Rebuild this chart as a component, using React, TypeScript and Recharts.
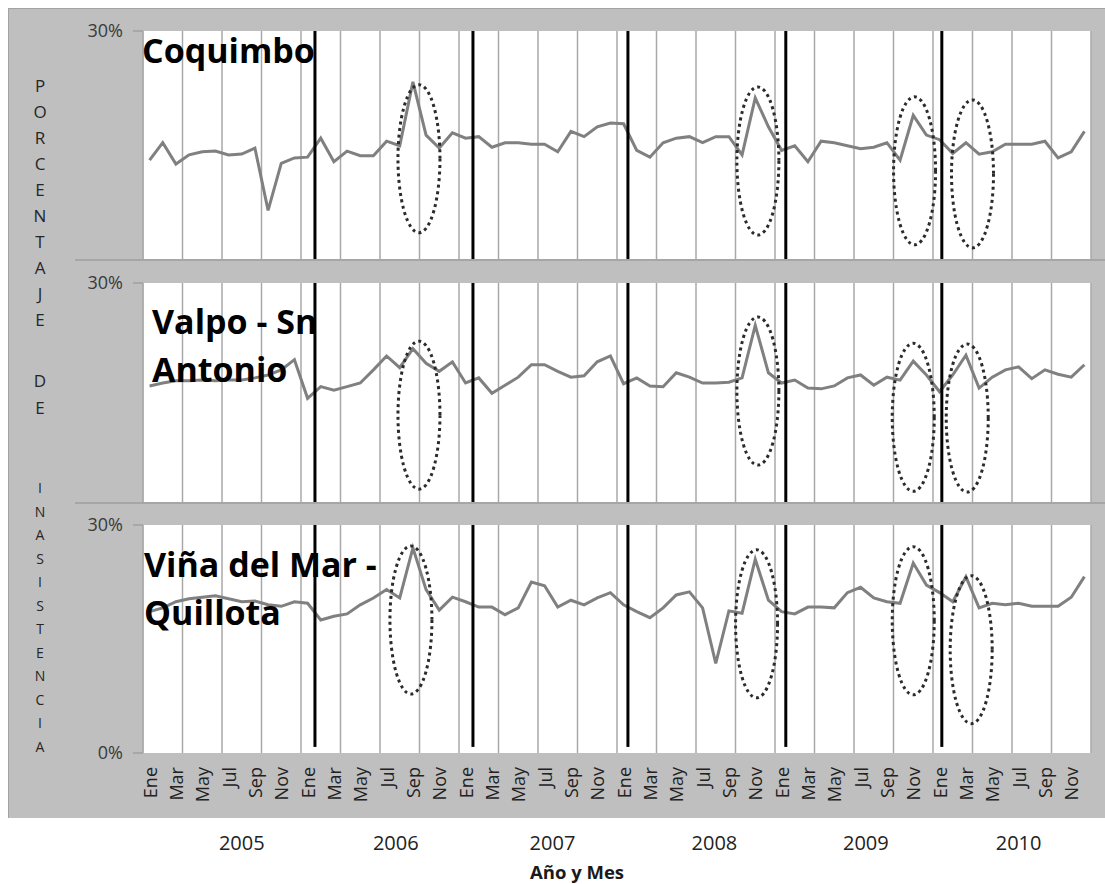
import React from 'react';
import { LineChart, Line, XAxis, YAxis, CartesianGrid, ReferenceLine, ReferenceDot } from 'recharts';

const FONT = "'Open Sans', 'Liberation Sans', sans-serif";

const years = ['2005', '2006', '2007', '2008', '2009', '2010'];
const monthLabels = ['Ene', 'Mar', 'May', 'Jul', 'Sep', 'Nov'];

const coquimbo = [
  13.0, 15.3, 12.5, 13.7, 14.1, 14.2, 13.7, 13.8, 14.6, 6.4, 12.6, 13.3,
  13.4, 15.9, 12.8, 14.2, 13.6, 13.6, 15.5, 14.9, 23.3, 16.3, 14.6, 16.6,
  15.9, 16.1, 14.7, 15.3, 15.3, 15.1, 15.1, 14.1, 16.8, 16.1, 17.4, 17.9,
  17.8, 14.3, 13.4, 15.3, 15.9, 16.1, 15.3, 16.1, 16.1, 13.7, 21.2, 17.4,
  14.3, 14.9, 12.8, 15.5, 15.3, 14.9, 14.5, 14.7, 15.3, 13.0, 18.9, 16.3,
  15.7, 13.9, 15.3, 13.8, 14.1, 15.1, 15.1, 15.1, 15.5, 13.3, 14.1, 16.8,
];

const valpo = [
  15.9, 16.3, 16.6, 16.6, 16.7, 16.6, 16.7, 16.7, 17.0, 17.4, 18.1, 19.5,
  14.2, 15.8, 15.3, 15.8, 16.3, 18.1, 20.0, 18.4, 21.0, 19.0, 17.9, 19.2,
  16.3, 17.0, 14.9, 16.0, 17.1, 18.8, 18.8, 17.9, 17.1, 17.3, 19.2, 20.0,
  16.2, 17.0, 15.9, 15.8, 17.7, 17.1, 16.3, 16.3, 16.4, 17.0, 24.2, 17.7,
  16.3, 16.7, 15.6, 15.5, 15.9, 17.0, 17.4, 16.0, 17.1, 16.7, 19.3, 17.4,
  15.1, 17.4, 20.1, 15.6, 17.1, 18.1, 18.5, 16.9, 18.1, 17.5, 17.1, 18.8,
];

const vina = [
  18.6, 19.1, 19.9, 20.3, 20.5, 20.7, 20.3, 19.9, 20.0, 19.5, 19.3, 19.9,
  19.7, 17.5, 18.0, 18.3, 19.5, 20.4, 21.5, 20.4, 27.0, 21.5, 18.8, 20.5,
  19.9, 19.2, 19.2, 18.2, 19.1, 22.5, 22.0, 19.2, 20.1, 19.5, 20.4, 21.1,
  19.5, 18.6, 17.8, 19.1, 20.8, 21.2, 19.1, 11.8, 18.7, 18.4, 25.5, 20.1,
  18.6, 18.3, 19.2, 19.2, 19.1, 21.1, 21.8, 20.4, 19.9, 19.7, 25.0, 22.1,
  21.1, 19.9, 23.2, 19.1, 19.7, 19.5, 19.7, 19.3, 19.3, 19.3, 20.5, 23.2,
];

// annotation positions (in data units: month index, percent)
const yearBreaks = [13.06, 25.06, 36.83, 48.82, 60.67];
const ellipsesCoq = [
  { x: 20.96, y: 13.2 }, { x: 46.7, y: 12.9 }, { x: 58.6, y: 11.6 }, { x: 63.0, y: 11.2 },
];
const ellipsesValpo = [
  { x: 20.96, y: 11.9 }, { x: 46.7, y: 15.2 }, { x: 58.5, y: 11.6 }, { x: 62.6, y: 11.5 },
];
const ellipsesVina = [
  { x: 20.35, y: 17.5 }, { x: 46.6, y: 17.0 }, { x: 58.5, y: 17.4 }, { x: 62.9, y: 13.6 },
];

const gridTicks = Array.from({ length: 25 }, (_, i) => i * 3);
const monthTicks = Array.from({ length: 36 }, (_, i) => i * 2 + 0.5);
const yearTicks = [7.5, 19.2, 31.1, 43.4, 54.9, 66.5];

const toData = (arr: number[]) => arr.map((v, i) => ({ x: i + 0.5, v }));

const EmptyTick = () => <g />;

const MonthTick = (props: any) => {
  const { x, y, payload } = props;
  const idx = Math.round((payload.value - 0.5) / 2) % 6;
  return (
    <text
      x={x}
      y={y}
      transform={`rotate(-90 ${x} ${y})`}
      textAnchor="end"
      dominantBaseline="central"
      fontSize={18}
      fill="#222222"
      fontFamily={FONT}
    >
      {monthLabels[idx]}
    </text>
  );
};

const YearTick = (props: any) => {
  const { x, y, payload } = props;
  const idx = yearTicks.indexOf(payload.value);
  return (
    <text x={x} y={y} textAnchor="middle" dominantBaseline="central" fontSize={20} fill="#222222" fontFamily={FONT}>
      {years[idx]}
    </text>
  );
};

const ellipseShape = (p: any) => (
  <ellipse
    cx={p.cx}
    cy={p.cy}
    rx={21}
    ry={74}
    fill="none"
    stroke="#2b2b2b"
    strokeWidth={3}
    strokeDasharray="3 3.5"
  />
);

const gridX = (chartWidth: number) => {
  const left = 143;
  const right = chartWidth - 14;
  return gridTicks.map((t) => left + ((right - left) * t) / 72);
};

type PanelProps = {
  top: number;
  height: number;
  mTop: number;
  values: number[];
  ellipses: { x: number; y: number }[];
  bottom: boolean;
};

function Panel({ top, height, mTop, values, ellipses, bottom }: PanelProps) {
  const data = toData(values);
  return (
    <div style={{ position: 'absolute', left: 0, top, width: 1105, height }}>
      <LineChart
        width={1105}
        height={height}
        data={data}
        margin={{ top: mTop, right: 14, bottom: bottom ? 0 : 1, left: 83 }}
      >
        <CartesianGrid
          horizontal={false}
          stroke="#a8a8a8"
          strokeWidth={1.5}
          fill="#ffffff"
          verticalCoordinatesGenerator={() => gridX(1105)}
        />
        <XAxis
          dataKey="x"
          type="number"
          domain={[0, 72]}
          ticks={gridTicks}
          interval={0}
          height={0}
          tick={<EmptyTick />}
          axisLine={bottom ? { stroke: '#a0a0a0', strokeWidth: 1.5 } : false}
          tickLine={bottom ? { stroke: '#a0a0a0', strokeWidth: 1.5 } : false}
          tickSize={7}
        />
        {bottom && (
          <XAxis
            xAxisId="lbl"
            dataKey="x"
            type="number"
            domain={[0, 72]}
            ticks={monthTicks}
            interval={0}
            height={65}
            axisLine={false}
            tickLine={false}
            tickMargin={8}
            tick={<MonthTick />}
          />
        )}
        {bottom && (
          <XAxis
            xAxisId="yr"
            dataKey="x"
            type="number"
            domain={[0, 72]}
            ticks={yearTicks}
            interval={0}
            height={66}
            axisLine={false}
            tickLine={false}
            tickMargin={18}
            tick={<YearTick />}
          />
        )}
        <YAxis
          type="number"
          domain={[0, 30]}
          ticks={bottom ? [0, 30] : [30]}
          interval={0}
          width={60}
          tickFormatter={(v: number) => `${v}%`}
          axisLine={{ stroke: '#a8a8a8' }}
          tickLine={{ stroke: '#a0a0a0', strokeWidth: 1.5 }}
          tickSize={10}
          tickMargin={10}
          tick={{ fill: '#3a3a3a', fontSize: 18, fontFamily: FONT }}
        />
        <Line
          type="linear"
          dataKey="v"
          stroke="#808080"
          strokeWidth={3}
          dot={false}
          isAnimationActive={false}
        />
        {yearBreaks.map((b) =>
          bottom ? (
            <ReferenceLine
              key={b}
              segment={[{ x: b, y: 30 }, { x: b, y: 0.8 }]}
              stroke="#000"
              strokeWidth={3}
            />
          ) : (
            <ReferenceLine key={b} x={b} stroke="#000" strokeWidth={3} />
          )
        )}
        {ellipses.map((e, i) => (
          <ReferenceDot key={i} x={e.x} y={e.y} r={2} shape={ellipseShape} />
        ))}
      </LineChart>
    </div>
  );
}

const titleStyle: React.CSSProperties = {
  position: 'absolute',
  fontFamily: FONT,
  fontWeight: 700,
  fontSize: 34,
  lineHeight: '48px',
  color: '#000',
  whiteSpace: 'nowrap',
};

const letterGroups = [
  { text: 'PORCENTAJE', y0: 85, step: 26, size: 17 },
  { text: 'DE', y0: 380, step: 27, size: 17 },
  { text: 'INASISTENCIA', y0: 488, step: 23.5, size: 14 },
];

export default function App() {
  return (
    <div
      style={{
        position: 'absolute',
        left: 0,
        top: 0,
        width: 1105,
        height: 884,
        background: '#ffffff',
        overflow: 'hidden',
        fontFamily: FONT,
      }}
    >
      <div
        style={{
          position: 'absolute',
          left: 8,
          top: 8,
          width: 1097,
          height: 810,
          background: '#bfbfbf',
          borderTop: '1px solid #a3a3a3',
          borderLeft: '1px solid #a3a3a3',
          boxSizing: 'border-box',
        }}
      />
      <div style={{ position: 'absolute', left: 75, top: 259, width: 1030, height: 2, background: '#a6a6a6' }} />
      <div style={{ position: 'absolute', left: 75, top: 502, width: 1030, height: 2, background: '#a6a6a6' }} />

      <Panel top={0} height={260} mTop={31} values={coquimbo} ellipses={ellipsesCoq} bottom={false} />
      <Panel top={260} height={243} mTop={23} values={valpo} ellipses={ellipsesValpo} bottom={false} />
      <Panel top={503} height={381} mTop={22} values={vina} ellipses={ellipsesVina} bottom={true} />

      <div style={{ ...titleStyle, left: 142, top: 26 }}>Coquimbo</div>
      <div style={{ ...titleStyle, left: 152, top: 297 }}>
        Valpo - Sn
        <br />
        Antonio
      </div>
      <div style={{ ...titleStyle, left: 144, top: 540 }}>
        Viña del Mar -
        <br />
        Quillota
      </div>

      {letterGroups.map((g, gi) =>
        g.text.split('').map((ch, i) => (
          <div
            key={`${gi}-${i}`}
            style={{
              position: 'absolute',
              left: 28,
              width: 24,
              top: g.y0 + i * g.step - g.size / 2,
              height: g.size,
              lineHeight: `${g.size}px`,
              textAlign: 'center',
              fontFamily: FONT,
              fontSize: g.size,
              color: '#262626',
            }}
          >
            {ch}
          </div>
        ))
      )}

      <div
        style={{
          position: 'absolute',
          left: 477,
          width: 200,
          top: 861,
          height: 22,
          lineHeight: '22px',
          textAlign: 'center',
          fontFamily: FONT,
          fontWeight: 700,
          fontSize: 18.5,
          color: '#1a1a1a',
          whiteSpace: 'nowrap',
        }}
      >
        Año y Mes
      </div>
    </div>
  );
}
